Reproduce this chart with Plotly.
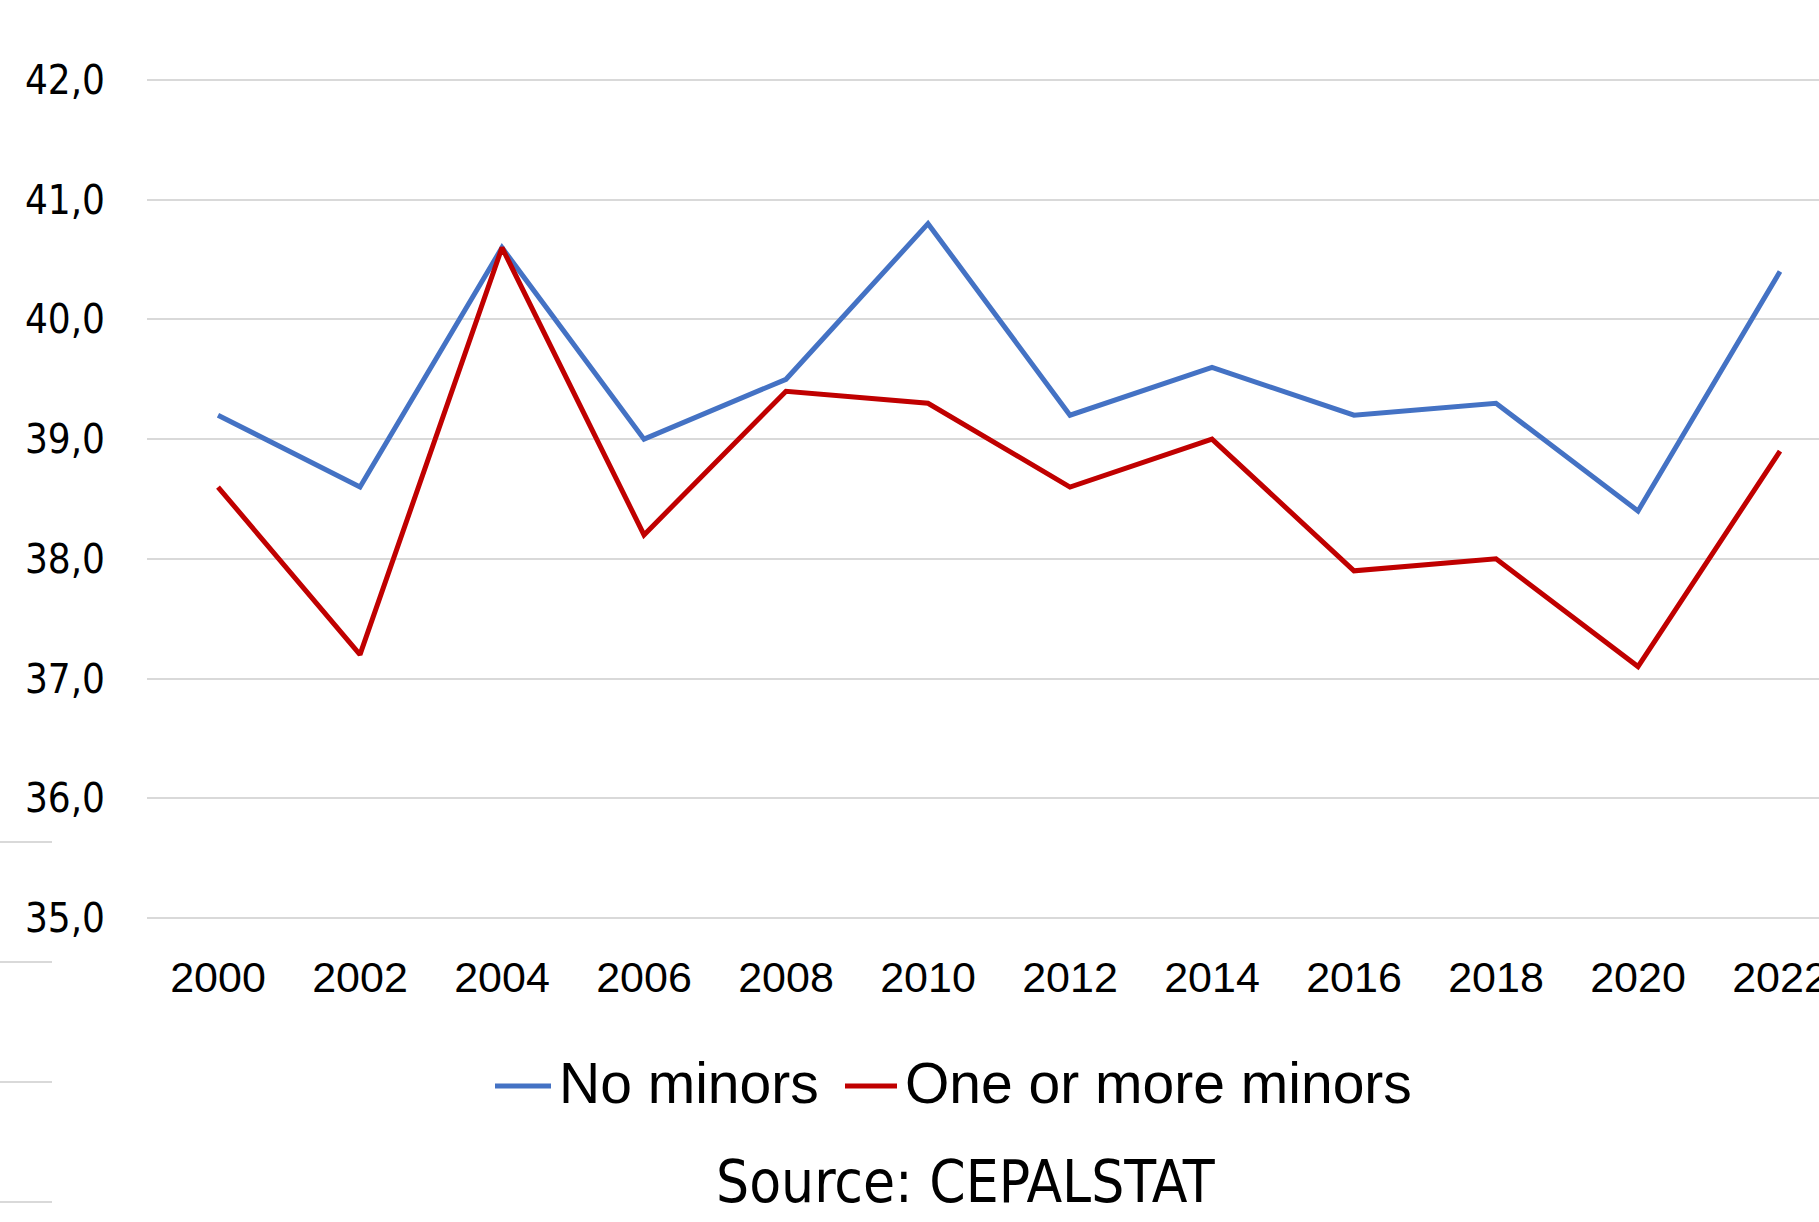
import plotly.graph_objects as go

# Survey years and shares (%) for the two household groups
years = [2000, 2002, 2004, 2006, 2008, 2010, 2012, 2014, 2016, 2018, 2020, 2022]
no_minors = [39.2, 38.6, 40.6, 39.0, 39.5, 40.8, 39.2, 39.6, 39.2, 39.3, 38.4, 40.4]
with_minors = [38.6, 37.2, 40.6, 38.2, 39.4, 39.3, 38.6, 39.0, 37.9, 38.0, 37.1, 38.9]
year_labels = [str(y) for y in years]
y_ticks = [35, 36, 37, 38, 39, 40, 41, 42]
series_names = ["No minors", "One or more minors"]
series_colors = ["#4472C4", "#C00000"]

W, H = 1819, 1222
M_L, M_R, M_T, M_B = 147, 0, 78, 302
plot_w = W - M_L - M_R
plot_h = H - M_T - M_B
PX_PER_UNIT = 119.7   # vertical scale of the value axis
PX_PER_YEAR = 71.0    # horizontal scale of the year axis
pad = 2 / PX_PER_UNIT  # keeps the 35 and 42 gridlines inside the plot area


def px_x(px):
    return (px - M_L) / plot_w


def px_y(py):
    return (H - M_B - py) / plot_h


fig = go.Figure()
for name, vals, col in zip(series_names, [no_minors, with_minors], series_colors):
    fig.add_trace(go.Scatter(
        x=years, y=vals, name=name, mode="lines",
        line=dict(color=col, width=5),
    ))

shapes = []
# short grey rules at the far left edge
for py in [842, 962, 1082, 1202]:
    shapes.append(dict(
        type="line", xref="paper", yref="paper",
        x0=px_x(0), x1=px_x(52), y0=px_y(py), y1=px_y(py),
        line=dict(color="#D9D9D9", width=2),
    ))

# legend row below the axis
legend_font = dict(family="Liberation Sans, Arial, sans-serif", size=57, color="black")
legend_items = [(495, 551, 557), (845, 897, 903)]
annotations = []
for (lx0, lx1, tx), name, col in zip(legend_items, series_names, series_colors):
    shapes.append(dict(
        type="line", xref="paper", yref="paper",
        x0=px_x(lx0), x1=px_x(lx1), y0=px_y(1086), y1=px_y(1086),
        line=dict(color=col, width=5),
    ))
    annotations.append(dict(
        text=name, xref="paper", yref="paper", x=px_x(tx), y=px_y(1083),
        xanchor="left", yanchor="middle", showarrow=False, font=legend_font,
    ))

annotations.append(dict(
    text="Source: CEPALSTAT", xref="paper", yref="paper",
    x=px_x(966), y=px_y(1182),
    xanchor="center", yanchor="middle", showarrow=False,
    font=dict(family="Liberation Sans Narrow, DejaVu Sans Condensed, Arial Narrow, sans-serif",
              size=58, color="black"),
))

fig.update_layout(
    width=W, height=H,
    margin=dict(l=M_L, r=M_R, t=M_T, b=M_B, autoexpand=False),
    paper_bgcolor="white", plot_bgcolor="white",
    separators=",.",
    showlegend=False,
    xaxis=dict(
        range=[1999, 1999 + plot_w / PX_PER_YEAR],
        tickmode="array", tickvals=years, ticktext=year_labels,
        showgrid=False, zeroline=False, showline=False, ticks="",
        ticklabelstandoff=28, ticklabeloverflow="allow",
        tickfont=dict(family="Liberation Sans, Arial, sans-serif", size=43, color="black"),
        fixedrange=True,
    ),
    yaxis=dict(
        range=[35 - pad, 42 + pad],
        tickmode="array", tickvals=y_ticks, tickformat=".1f",
        showgrid=True, gridcolor="#D9D9D9", gridwidth=2,
        zeroline=False, showline=False, ticks="",
        ticklabelstandoff=41,
        tickfont=dict(family="Liberation Sans Narrow, DejaVu Sans Condensed, Arial Narrow, sans-serif",
                      size=40, color="black"),
        fixedrange=True,
    ),
    shapes=shapes,
    annotations=annotations,
)

fig.write_html("out.html")
